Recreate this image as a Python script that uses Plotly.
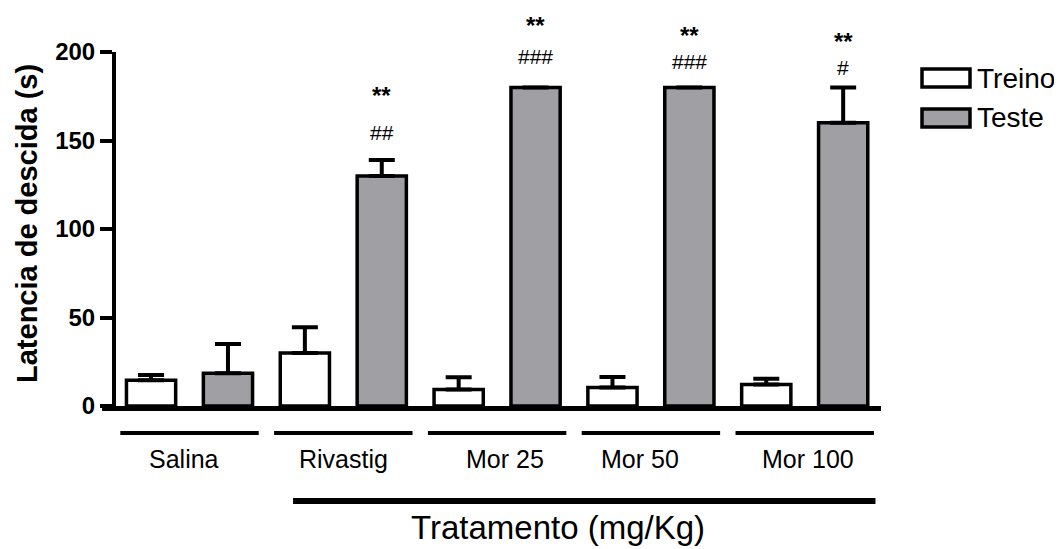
import plotly.graph_objects as go

# ---- data ----
groups = ["Salina", "Rivastig", "Mor 25", "Mor 50", "Mor 100"]
treino = [14.5, 30, 9.3, 10.4, 12.2]
treino_err = [3, 14.5, 7, 6, 3.2]
teste = [18.5, 130, 180, 180, 160]
teste_err = [16.5, 9, 0, 0, 20]
stars = ["", "**", "**", "**", "**"]
hashes = ["", "##", "###", "###", "#"]
series_names = ["Treino", "Teste"]
y_ticks = [0, 50, 100, 150, 200]
x_title = "Tratamento (mg/Kg)"
y_title = "Latencia de descida (s)"

# ---- layout constants (reference-image pixels) ----
OFF = 8  # page body margin of the browser
FIG_W, FIG_H = 1062 - OFF, 549 - OFF
L, R_EDGE, T, B_EDGE = 116, 881, 52, 406
W, H = R_EDGE - L, B_EDGE - T
FONT = "Liberation Sans, Arial, sans-serif"
GRAY = "#a09fa4"

# vertical position (reference px) of significance marks
star_px = [None, 96, 26, 36, 41]
hash_px = [None, 133, 56, 61, 67]


def px_x(p):
    return (p - L) / W


def px_y(p):
    return (B_EDGE - p) / H


fig = go.Figure()
for name, vals, errs, color in [
    (series_names[0], treino, treino_err, "white"),
    (series_names[1], teste, teste_err, GRAY),
]:
    fig.add_trace(go.Bar(
        x=groups, y=vals, name=name,
        marker=dict(color=color, line=dict(color="black", width=3.5)),
        error_y=dict(type="data", symmetric=False, array=errs,
                     arrayminus=[0] * len(errs), color="black",
                     thickness=4, width=13),
        showlegend=False,
    ))

annotations = []
shapes = []

# significance marks above Teste bars
for i, g in enumerate(groups):
    if stars[i]:
        annotations.append(dict(x=i + 0.25, y=px_y(star_px[i]), xref="x", yref="paper",
                                text="<b>" + stars[i] + "</b>", showarrow=False,
                                font=dict(family=FONT, size=24, color="black"),
                                yanchor="middle"))
    if hashes[i]:
        annotations.append(dict(x=i + 0.25, y=px_y(hash_px[i]), xref="x", yref="paper",
                                text=hashes[i], showarrow=False,
                                font=dict(family=FONT, size=21, color="black"),
                                yanchor="middle"))

# group labels and underline bars
label_shift = [-6, 0, 8, -11, 3]
for i, g in enumerate(groups):
    annotations.append(dict(x=i, y=px_y(459), xref="x", yref="paper", text=g,
                            showarrow=False, xshift=label_shift[i],
                            font=dict(family=FONT, size=25, color="black"),
                            yanchor="middle"))
    shapes.append(dict(type="line", xref="x", yref="paper",
                       x0=i - 0.45, x1=i + 0.45, y0=px_y(433), y1=px_y(433),
                       line=dict(color="black", width=4)))

# big bracket under treated groups
bx0, bx1 = 0.673, len(groups) - 1 + 0.46
shapes.append(dict(type="line", xref="x", yref="paper",
                   x0=bx0, x1=bx1, y0=px_y(501), y1=px_y(501),
                   line=dict(color="black", width=6)))
annotations.append(dict(x=px_x(558), y=px_y(527), xref="paper", yref="paper",
                        text=x_title, showarrow=False,
                        font=dict(family=FONT, size=33, color="black"),
                        xanchor="center", yanchor="middle"))

# x axis stub to the left of the y axis
shapes.append(dict(type="line", xref="paper", yref="paper",
                   x0=px_x(102), x1=0, y0=px_y(408.5), y1=px_y(408.5),
                   line=dict(color="black", width=5)))

# y title
annotations.append(dict(x=px_x(27), y=px_y(224), xref="paper", yref="paper",
                        text="<b>" + y_title + "</b>", showarrow=False, textangle=-90,
                        font=dict(family=FONT, size=29, color="black"),
                        xanchor="center", yanchor="middle"))

# manual legend
for name, color, top, bot in [
    (series_names[0], "white", 69, 87),
    (series_names[1], GRAY, 109, 127),
]:
    shapes.append(dict(type="rect", xref="paper", yref="paper",
                       x0=px_x(922), x1=px_x(970), y0=px_y(bot), y1=px_y(top),
                       fillcolor=color, line=dict(color="black", width=3.5)))
    annotations.append(dict(x=px_x(975), y=px_y((top + bot) / 2), xref="paper", yref="paper",
                            text=name, showarrow=False, xanchor="left", yanchor="middle",
                            font=dict(family=FONT, size=28, color="black")))

fig.update_layout(
    width=FIG_W, height=FIG_H,
    margin=dict(l=L - OFF, r=1062 - R_EDGE, t=T - OFF, b=549 - B_EDGE, pad=0),
    paper_bgcolor="white", plot_bgcolor="white",
    barmode="group", bargap=0, bargroupgap=0.36,
    showlegend=False,
    annotations=annotations, shapes=shapes,
    xaxis=dict(range=[-0.478, 4.496], showticklabels=False, ticks="",
               showline=True, linecolor="black", linewidth=5,
               showgrid=False, zeroline=False, fixedrange=True),
    yaxis=dict(range=[0, 200], tickvals=y_ticks, ticks="outside", ticklen=12,
               tickwidth=4, tickcolor="black", showline=True, linecolor="black",
               linewidth=4, showgrid=False, zeroline=False,
               tickfont=dict(family=FONT, size=24, color="black", weight="bold"),
               fixedrange=True),
)

fig.write_html("out.html")
